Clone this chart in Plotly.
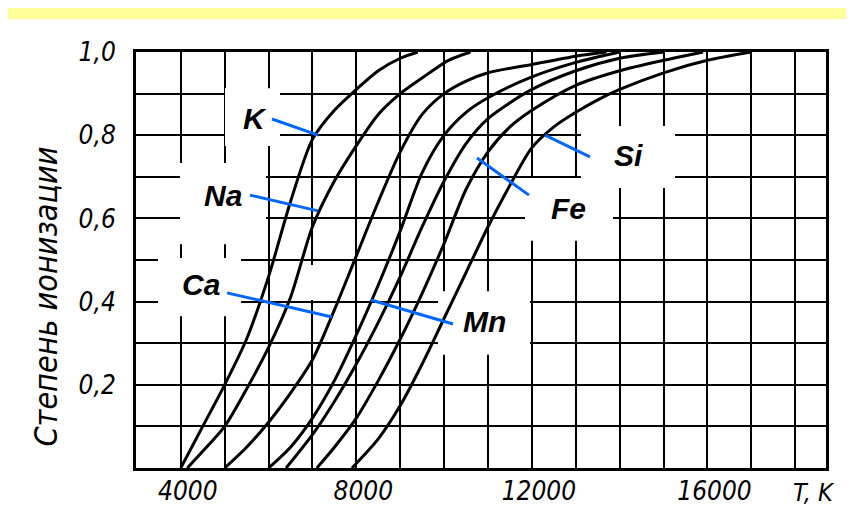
import plotly.graph_objects as go

# ---------------- data ----------------
T_K  = [4000, 4500, 5000, 5500, 6000, 6500, 7000, 7500, 8000, 8500, 9000, 9400]
A_K  = [0.00, 0.10, 0.20, 0.31, 0.46, 0.64, 0.79, 0.86, 0.91, 0.955, 0.985, 1.00]

T_Na = [4150, 4500, 5000, 5500, 6000, 6500, 7000, 7500, 8000, 8500, 9000, 9600, 10100, 10600]
A_Na = [0.00, 0.04, 0.10, 0.19, 0.29, 0.41, 0.58, 0.69, 0.775, 0.85, 0.90, 0.945, 0.98, 1.00]

T_Ca = [5000, 5500, 6000, 6500, 7000, 7500, 8000, 8500, 9000, 9500, 10000, 10500, 11000, 12000, 13000, 13700]
A_Ca = [0.00, 0.05, 0.11, 0.18, 0.26, 0.38, 0.51, 0.64, 0.76, 0.85, 0.90, 0.93, 0.95, 0.97, 0.99, 1.00]

T_Mn = [6000, 6500, 7000, 7500, 8000, 8500, 9000, 9500, 10000, 10500, 11000, 12000, 13000, 14000]
A_Mn = [0.00, 0.05, 0.12, 0.21, 0.32, 0.44, 0.57, 0.71, 0.80, 0.855, 0.89, 0.94, 0.975, 1.00]

T_Mg = [6400, 7000, 7500, 8000, 8500, 9000, 9500, 10000, 10500, 11000, 12000, 13000, 14000, 15000]
A_Mg = [0.00, 0.08, 0.16, 0.25, 0.35, 0.46, 0.58, 0.69, 0.78, 0.84, 0.91, 0.955, 0.985, 1.00]

T_Fe = [7100, 7500, 8000, 8500, 9000, 9500, 10000, 10500, 11000, 11500, 12000, 13000, 14000, 15000, 15900]
A_Fe = [0.00, 0.05, 0.12, 0.21, 0.31, 0.42, 0.54, 0.67, 0.76, 0.82, 0.86, 0.92, 0.955, 0.98, 1.00]

T_Si = [7900, 8500, 9000, 9500, 10000, 10500, 11000, 11500, 12000, 12500, 13000, 13500, 14000, 15000, 16000, 17000]
A_Si = [0.00, 0.07, 0.15, 0.25, 0.36, 0.47, 0.58, 0.68, 0.77, 0.82, 0.855, 0.885, 0.91, 0.95, 0.98, 1.00]

x_tick_vals = [4000, 8000, 12000, 16000]
x_tick_text = ["4000", "8000", "12000", "16000"]
y_tick_vals = [0.2, 0.4, 0.6, 0.8, 1.0]
y_tick_text = ["0,2", "0,4", "0,6", "0,8", "1,0"]
y_title = "Степень ионизации"
x_unit = "T, K"

series = [(T_K, A_K), (T_Na, A_Na), (T_Ca, A_Ca), (T_Mn, A_Mn),
          (T_Mg, A_Mg), (T_Fe, A_Fe), (T_Si, A_Si)]

# labels: name, text position, pointer start, pointer end (on the curve), white box
labels = [
    ("K",  (5691, 0.841), (6078, 0.839), (7126, 0.800), (5008, 6261, 0.774, 0.913)),
    ("Na", (4962, 0.656), (5577, 0.656), (7126, 0.618), (3982, 5942, 0.538, 0.733)),
    ("Ca", (4461, 0.440), (5053, 0.421), (7445, 0.363), (3481, 5372, 0.365, 0.505)),
    ("Mn", (10931, 0.353), (10202, 0.346), (8334, 0.404), (9860, 11957, 0.272, 0.425)),
    ("Fe", (12822, 0.625), (11934, 0.656), (10749, 0.745), (11842, 13847, 0.546, 0.697)),
    ("Si", (14189, 0.752), (13323, 0.748), (12298, 0.800), (13118, 15260, 0.673, 0.822)),
]
empty_box = (6944, 7810, 0.404, 0.488)

NARROW = "Liberation Sans Narrow, DejaVu Sans Condensed, DejaVu Sans, sans-serif"

fig = go.Figure()
for T, A in series:
    fig.add_trace(go.Scatter(x=T, y=A, mode="lines",
                             line=dict(color="black", width=3, shape="spline", smoothing=0.8),
                             hoverinfo="skip", showlegend=False))

shapes = []
# yellow band at top
shapes.append(dict(type="rect", xref="paper", yref="paper", x0=-0.2, x1=1.1, y0=1.0793, y1=1.2,
                   fillcolor="#FFFF99", line=dict(width=0), layer="above"))
boxes = [lb[4] for lb in labels] + [empty_box]
for (x0, x1, y0, y1) in boxes:
    shapes.append(dict(type="rect", xref="x", yref="y", x0=x0, x1=x1, y0=y0, y1=y1,
                       fillcolor="white", line=dict(width=0), layer="between"))
annotations = []
for name, tp, p0, p1, _ in labels:
    shapes.append(dict(type="line", xref="x", yref="y", x0=p0[0], y0=p0[1], x1=p1[0], y1=p1[1],
                       line=dict(color="#0066FF", width=3), layer="above"))
    annotations.append(dict(x=tp[0], y=tp[1], xref="x", yref="y", text=name, showarrow=False,
                            font=dict(family="Liberation Sans, Arial, sans-serif", size=30,
                                      color="black", weight="bold", style="italic")))

annotations.append(dict(x=1.0, y=-0.058, xref="paper", yref="paper", text=x_unit, showarrow=False,
                        xanchor="center", yanchor="middle", xshift=-12,
                        font=dict(family=NARROW, size=25, style="italic", color="black")))
annotations.append(dict(x=-0.130, y=0.413, xref="paper", yref="paper", text=y_title, showarrow=False,
                        textangle=-90, xanchor="center", yanchor="middle",
                        font=dict(family=NARROW, size=32, style="italic", color="black")))

fig.update_layout(
    width=854, height=507,
    margin=dict(l=128, r=36, t=44, b=47, autoexpand=False),
    paper_bgcolor="white", plot_bgcolor="white",
    shapes=shapes, annotations=annotations,
    xaxis=dict(range=[2980, 18700], tickmode="array", tickvals=x_tick_vals, ticktext=x_tick_text,
               automargin=False,
               showgrid=True, gridcolor="black", gridwidth=2,
               minor=dict(tickmode="linear", tick0=0, dtick=1000, showgrid=True,
                          gridcolor="black", gridwidth=2, ticks=""),
               showline=True, mirror=True, linecolor="black", linewidth=3, zeroline=False,
               ticks="", ticklabelshift=7, ticklabelstandoff=-2,
               tickfont=dict(family=NARROW, size=26, style="italic", color="black")),
    yaxis=dict(range=[0, 1], tickmode="array", tickvals=y_tick_vals, ticktext=y_tick_text,
               automargin=False,
               showgrid=True, gridcolor="black", gridwidth=2,
               minor=dict(tickmode="linear", tick0=0, dtick=0.1, showgrid=True,
                          gridcolor="black", gridwidth=2, ticks=""),
               showline=True, mirror=True, linecolor="black", linewidth=3, zeroline=False,
               ticks="", ticklabelstandoff=12,
               tickfont=dict(family=NARROW, size=26, style="italic", color="black")),
)

fig.write_html("out.html")
